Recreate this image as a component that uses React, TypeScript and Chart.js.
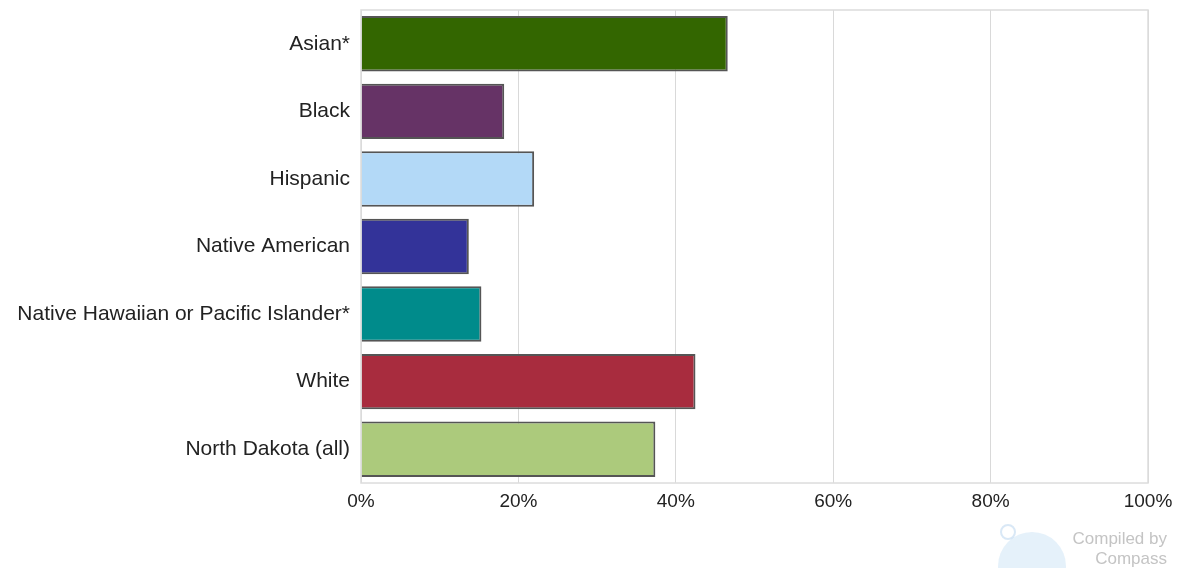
import React, { useEffect, useRef } from "react";
import { Chart, registerables } from "chart.js";

Chart.register(...registerables);

const categories = [
  "Asian*",
  "Black",
  "Hispanic",
  "Native American",
  "Native Hawaiian or Pacific Islander*",
  "White",
  "North Dakota (all)",
];
const values = [46.6, 18.2, 22.0, 13.7, 15.3, 42.5, 37.4];
const barColors = ["#336600", "#663366", "#b3d9f7", "#333399", "#008b8b", "#a82c3e", "#acca7c"];
const xTicks = [0, 20, 40, 60, 80, 100];

const FONT = "'Liberation Sans', Arial, sans-serif";

const borderPlugin = {
  id: "plotBorder",
  afterDraw(chart: any) {
    const { ctx, chartArea } = chart;
    ctx.save();
    ctx.strokeStyle = "#dcdcdc";
    ctx.lineWidth = 1.5;
    ctx.strokeRect(chartArea.left, chartArea.top, chartArea.right - chartArea.left, chartArea.bottom - chartArea.top);
    ctx.restore();
  },
};

const watermarkPlugin = {
  id: "watermark",
  beforeDraw(chart: any) {
    const { ctx } = chart;
    ctx.save();
    ctx.fillStyle = "rgba(180, 215, 240, 0.35)";
    ctx.beginPath();
    ctx.arc(1032, 566, 34, 0, Math.PI * 2);
    ctx.fill();
    ctx.strokeStyle = "rgba(170, 205, 235, 0.45)";
    ctx.lineWidth = 2;
    ctx.beginPath();
    ctx.arc(1008, 532, 7, 0, Math.PI * 2);
    ctx.stroke();
    ctx.restore();
  },
  afterDraw(chart: any) {
    const { ctx } = chart;
    ctx.save();
    ctx.fillStyle = "#c4c4c4";
    ctx.font = "17px " + FONT;
    ctx.textAlign = "right";
    ctx.textBaseline = "middle";
    ctx.fillText("Compiled by", 1167, 539);
    ctx.fillText("Compass", 1167, 559);
    ctx.restore();
  },
};

export default function App() {
  const ref = useRef<HTMLCanvasElement | null>(null);
  useEffect(() => {
    document.body.style.margin = "0";
    const chart = new Chart(ref.current as HTMLCanvasElement, {
      type: "bar",
      data: {
        labels: categories,
        datasets: [
          {
            data: values,
            backgroundColor: barColors,
            borderColor: "#555555",
            borderWidth: 2,
            barPercentage: 0.82,
            categoryPercentage: 1,
          },
        ],
      },
      options: {
        indexAxis: "y",
        animation: false,
        responsive: false,
        devicePixelRatio: 1,
        layout: { padding: { top: 10, right: 38, left: 0, bottom: 0 } },
        plugins: { legend: { display: false }, tooltip: { enabled: false } },
        scales: {
          x: {
            min: 0,
            max: 100,
            afterBuildTicks: (scale: any) => {
              scale.ticks = xTicks.map((v) => ({ value: v }));
            },
            afterFit: (scale: any) => {
              scale.height = 85;
              scale.paddingLeft = 0;
              scale.paddingRight = 0;
            },
            grid: { color: "#d9d9d9", lineWidth: 1, drawTicks: false },
            border: { display: false },
            ticks: {
              padding: 7,
              color: "#222222",
              font: { size: 19, family: FONT },
              callback: (v: any) => v + "%",
            },
          },
          y: {
            afterFit: (scale: any) => {
              scale.width = 361;
              scale.paddingTop = 0;
              scale.paddingBottom = 0;
            },
            grid: { display: false, drawTicks: false },
            border: { display: false },
            ticks: {
              padding: 11,
              color: "#222222",
              font: { size: 21, family: FONT },
            },
          },
        },
      },
      plugins: [borderPlugin, watermarkPlugin],
    });
    return () => chart.destroy();
  }, []);
  return (
    <div style={{ position: "absolute", left: 0, top: 0, width: 1186, height: 568 }}>
      <canvas ref={ref} width={1186} height={568} style={{ width: 1186, height: 568 }} />
    </div>
  );
}
